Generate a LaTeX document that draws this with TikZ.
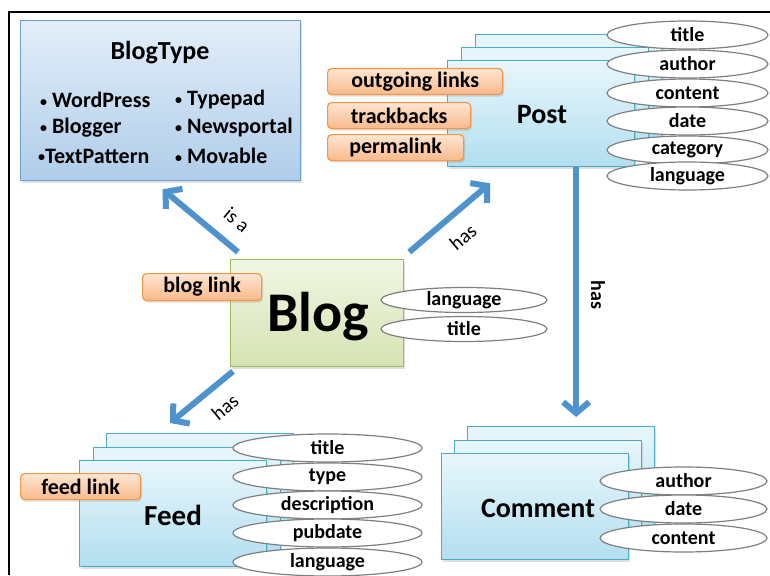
\documentclass[tikz,border=0pt]{standalone}
\usepackage{fontspec}
\setmainfont{Carlito}
\usetikzlibrary{shapes.geometric,arrows.meta,shadows}
\definecolor{arrblue}{HTML}{4F93CE}
\definecolor{btborder}{HTML}{6A9FD0}
\definecolor{bttop}{HTML}{E3EEF9}
\definecolor{btbot}{HTML}{AFCDEA}
\definecolor{blogborder}{HTML}{9BBB59}
\definecolor{blogtop}{HTML}{F1F6E4}
\definecolor{blogbot}{HTML}{D5E3B3}
\definecolor{stborder}{HTML}{4BACC6}
\definecolor{sttop}{HTML}{E8F6FB}
\definecolor{stbot}{HTML}{B2DFF0}
\definecolor{tagborder}{HTML}{F79646}
\definecolor{tagtop}{HTML}{FDE6D3}
\definecolor{tagbot}{HTML}{F9B98A}
\definecolor{ellborder}{HTML}{7F7F7F}
\newcommand{\mybul}{{\fontsize{14pt}{14pt}\selectfont\raisebox{1.5pt}{•}}}
\begin{document}
\begin{tikzpicture}[x=1pt,y=-1pt,
  fsb/.style={font=\fontsize{#1pt}{#1pt}\selectfont\bfseries},
  fsr/.style={font=\fontsize{#1pt}{#1pt}\selectfont},
  shad/.style={drop shadow={opacity=0.25,shadow xshift=1.5pt,shadow yshift=-2pt}},
  btbox/.style={draw=btborder,line width=1.3pt,top color=bttop,bottom color=btbot,
    anchor=north west,inner sep=0pt,minimum width=280pt,minimum height=160pt,shad},
  blogbox/.style={draw=blogborder,line width=1.3pt,top color=blogtop,bottom color=blogbot,
    anchor=north west,inner sep=0pt,minimum width=173pt,minimum height=107pt,shad},
  stackbox/.style={draw=stborder,line width=1.3pt,top color=sttop,bottom color=stbot,
    anchor=north west,inner sep=0pt,minimum width=187pt,minimum height=106pt,shad},
  tag/.style={draw=tagborder,line width=1.2pt,top color=tagtop,bottom color=tagbot,
    rounded corners=4pt,anchor=north west,inner sep=0pt,minimum height=26pt,fsb=22,shad},
  attr/.style={ellipse,draw=ellborder,line width=1.2pt,fill=white,inner sep=0pt,
    minimum height=#1,fsb=20},
  attr/.default=28pt,
  bullet/.style={anchor=west,inner sep=0pt,fsb=22},
  arr/.style={draw=arrblue,line width=6pt,-{Straight Barb[length=11pt,width=26pt]}},
  lbl/.style={inner sep=0pt,fsr=20},
]
\useasboundingbox (0,0) rectangle (770,575);
\fill[white] (0,0) rectangle (770,575);
\draw[line width=1.5pt] (9,575) -- (9,12) -- (770,12);

% BlogType
\node[btbox] (blogtype) at (20,20) {};
\node[fsb=26,inner sep=0pt] (bttitle) at (160,53) {BlogType};
\node[bullet] (bt1) at (40,100) {\mybul\ WordPress};
\node[bullet] (bt2) at (175,100) {\mybul\ Typepad};
\node[bullet] (bt3) at (40,128) {\mybul\ Blogger};
\node[bullet] (bt4) at (175,128) {\mybul\ Newsportal};
\node[bullet] (bt5) at (38,156) {\mybul TextPattern};
\node[bullet] (bt6) at (175,156) {\mybul\ Movable};

% Post stack
\node[stackbox] (post3) at (475,34) {};
\node[stackbox] (post2) at (461,47) {};
\node[stackbox] (post) at (447,60) {};
\node[fsb=28,inner sep=0pt] (posttxt) at (542,115) {Post};
\node[tag,minimum width=175pt] (outl) at (327,68) {outgoing links};
\node[tag,minimum width=143pt] (trb) at (327,102) {trackbacks};
\node[tag,minimum width=136pt] (perm) at (327,134) {permalink};
\node[attr,minimum width=161pt] (ptitle) at (687.5,35) {title};
\node[attr,minimum width=161pt] (pauthor) at (687.5,64) {author};
\node[attr,minimum width=161pt] (pcontent) at (687.5,93) {content};
\node[attr,minimum width=161pt] (pdate) at (687.5,121) {date};
\node[attr,minimum width=161pt] (pcat) at (687.5,150) {category};
\node[attr,minimum width=161pt] (plang) at (687.5,176) {language};

% Blog
\node[blogbox] (blog) at (230,259) {};
\node[fsb=56,inner sep=0pt] (blogtxt) at (318,317) {Blog};
\node[tag,minimum width=119pt,minimum height=27pt] (bloglink) at (142,273) {blog link};
\node[attr=25pt,minimum width=166pt] (blang) at (464,300) {language};
\node[attr=25pt,minimum width=166pt] (btitle) at (464,329) {title};

% Feed stack
\node[stackbox] (feed3) at (106,433) {};
\node[stackbox] (feed2) at (93,447) {};
\node[stackbox] (feed) at (79,460) {};
\node[fsb=29,inner sep=0pt] (feedtxt) at (173,515) {Feed};
\node[tag,minimum width=120pt] (feedlink) at (20,473) {feed link};
\node[attr,minimum width=189pt] (ftitle) at (327.5,448) {title};
\node[attr,minimum width=189pt] (ftype) at (327.5,477) {type};
\node[attr,minimum width=189pt] (fdesc) at (327.5,505) {description};
\node[attr,minimum width=189pt] (fpub) at (327.5,533) {pubdate};
\node[attr,minimum width=189pt] (flang) at (327.5,562) {language};

% Comment stack
\node[stackbox] (comment3) at (467,426) {};
\node[stackbox] (comment2) at (454,440) {};
\node[stackbox] (comment) at (441,453) {};
\node[fsb=28,inner sep=0pt] (commtxt) at (538,508) {Comment};
\node[attr,minimum width=167pt] (cauthor) at (683.5,481) {author};
\node[attr,minimum width=167pt] (cdate) at (683.5,509) {date};
\node[attr,minimum width=167pt] (ccontent) at (683.5,538) {content};

% connectors
\draw[arr] ([xshift=8pt,yshift=7pt]blog.north west) -- ([xshift=2pt,yshift=-8pt]blogtype.south);
\draw[arr] ([xshift=5pt,yshift=7pt]blog.north east) -- ([xshift=43pt,yshift=-16pt]post.south west);
\draw[arr] ([xshift=3pt,yshift=-4pt]blog.south west) -- ([xshift=64pt,yshift=10pt]feed3.north west);
\draw[arr] ([xshift=35pt]post.south) -- ([xshift=15pt,yshift=9pt]comment3.north);

\node[lbl,rotate=-40] (lisa) at (237,220) {is a};
\node[lbl,rotate=40] (lhas1) at (463,237) {has};
\node[lbl,rotate=40] (lhas2) at (225,407) {has};
\node[lbl,fsb=20,rotate=-90] (lhas3) at (598,295) {has};
\end{tikzpicture}
\end{document}
